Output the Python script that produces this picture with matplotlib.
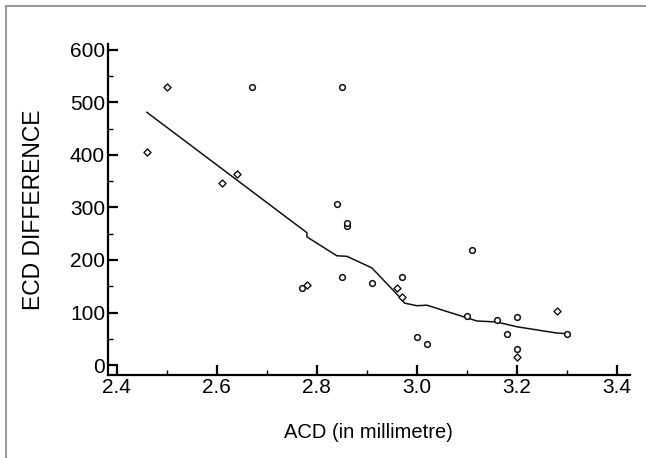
import numpy as np
import matplotlib.pyplot as plt
from matplotlib.lines import Line2D
from matplotlib.ticker import MultipleLocator

# ACD vs ECD difference
acd_circ = [2.67, 2.85, 2.84, 2.86, 2.86, 2.77, 2.85, 2.91, 2.97, 3.00, 3.02,
            3.10, 3.11, 3.16, 3.18, 3.20, 3.20, 3.30]
ecd_circ = [529, 529, 306, 265, 270, 147, 168, 157, 168, 53, 40,
            94, 219, 86, 59, 91, 30, 60]
acd_diam = [2.46, 2.50, 2.61, 2.64, 2.78, 2.96, 2.97, 3.20, 3.28]
ecd_diam = [405, 530, 347, 363, 152, 146, 130, 15, 103]

# smoothed curve
fit_x = [2.46, 2.78, 2.78, 2.84, 2.86, 2.91, 2.97, 2.975, 3.00, 3.02, 3.10, 3.12, 3.16, 3.20, 3.28, 3.30]
fit_y = [481, 252, 244, 208, 207, 185, 125, 118, 113, 114, 90, 84, 82, 73, 61, 60]

plt.rcParams['font.family'] = ['Liberation Sans', 'DejaVu Sans']

fig = plt.figure(figsize=(6.46, 4.58), dpi=100)
ax = fig.add_axes([0.167, 0.181, 0.808, 0.723])

ax.plot(fit_x, fit_y, color='#111111', lw=1.1)
ax.scatter(acd_circ, ecd_circ, marker='o', s=17, facecolors='white',
           edgecolors='#111111', linewidths=1.1, zorder=3)
ax.scatter(acd_diam, ecd_diam, marker='D', s=13, facecolors='white',
           edgecolors='#111111', linewidths=1.0, zorder=3)

ax.set_xlim(2.382, 3.426)
ax.set_ylim(-19, 611)
ax.set_xticks([2.4, 2.6, 2.8, 3.0, 3.2, 3.4])
ax.set_xticklabels(['2.4', '2.6', '2.8', '3.0', '3.2', '3.4'])
ax.set_yticks(np.arange(0, 601, 100))
ax.xaxis.set_minor_locator(MultipleLocator(0.1))
ax.yaxis.set_minor_locator(MultipleLocator(50))

for s in ['top', 'right']:
    ax.spines[s].set_visible(False)
for s in ['left', 'bottom']:
    ax.spines[s].set_linewidth(1.6)

ax.tick_params(which='major', direction='in', length=7.5, width=1.6, labelsize=15, pad=2)
ax.tick_params(which='minor', direction='in', length=3.5, width=1.0)

ax.set_xlabel('ACD (in millimetre)', fontsize=14.5, labelpad=19)
ax.set_ylabel('ECD DIFFERENCE', fontsize=16.5, labelpad=18)

# gray frame on the left and top
fig.add_artist(Line2D([6 / 646, 6 / 646], [0, 1 - 6 / 458], color='#999999', lw=1.5))
fig.add_artist(Line2D([6 / 646, 1], [1 - 6 / 458, 1 - 6 / 458], color='#999999', lw=1.5))

fig.savefig('out.png', dpi=100)
